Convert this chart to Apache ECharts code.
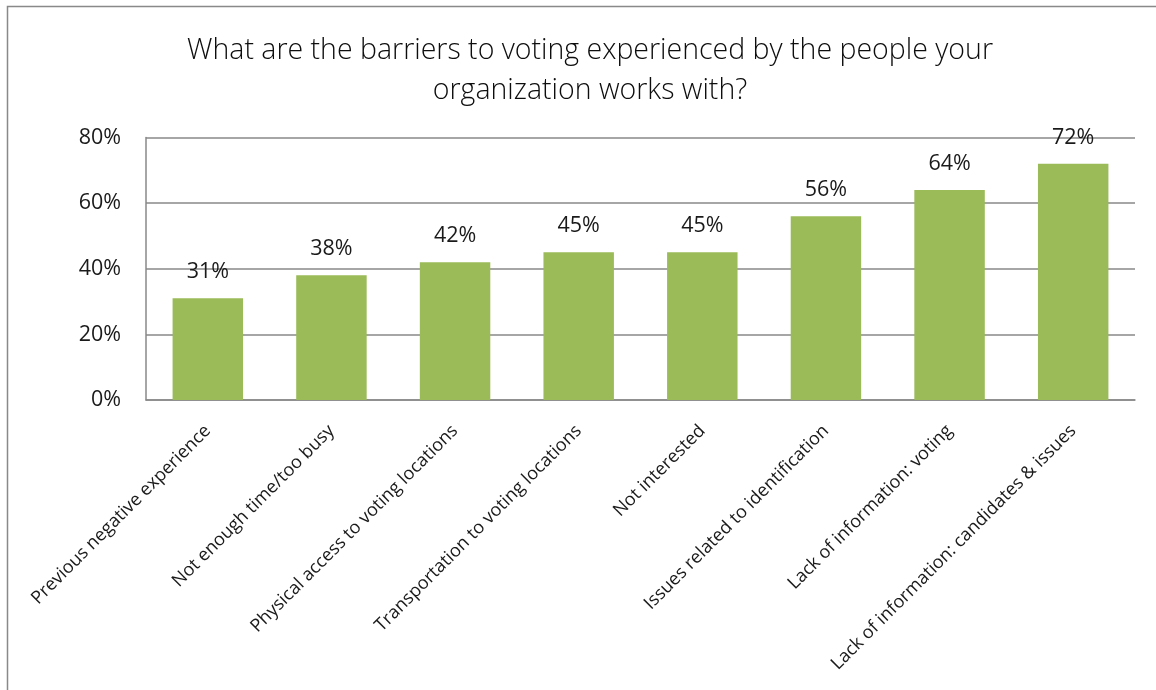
<!DOCTYPE html>
<html><head><meta charset="utf-8">
<script src="https://cdn.jsdelivr.net/npm/echarts@6/dist/echarts.min.js"></script>
<style>html,body{margin:0;padding:0;background:#fff}#c{width:1156px;height:690px}</style>
</head><body><div id="c"></div>
<script>
var titleText = "What are the barriers to voting experienced by the people your\norganization works with?";
var categories = ["Previous negative experience","Not enough time/too busy","Physical access to voting locations","Transportation to voting locations","Not interested","Issues related to identification","Lack of information: voting","Lack of information: candidates & issues"];
var values = [31, 38, 42, 45, 45, 56, 64, 72];
var yTicks = [0, 20, 40, 60, 80];

var chart = echarts.init(document.getElementById('c'), null, {renderer:'canvas'});
var font = "'Open Sans', 'Noto Sans', sans-serif";
chart.setOption({
  animation:false,
  graphic:[{type:'rect', shape:{x:7.5,y:6.5,width:1200,height:800}, style:{fill:'none', stroke:'#898989', lineWidth:1.5}, silent:true}],
  title:{text:titleText, left:585, top:26, textAlign:'center',
    textStyle:{fontFamily:font, fontWeight:300, fontSize:28.5, lineHeight:40, color:'#0d0d0d'}},
  grid:{left:146, right:21, top:137.5, bottom:290, containLabel:false},
  xAxis:{type:'category', data:categories,
    axisLine:{lineStyle:{color:'#898989', width:1.5}},
    axisTick:{show:false},
    axisLabel:{rotate:45, interval:0, fontFamily:font, fontSize:18, color:'#1a1a1a', margin:28}},
  yAxis:{type:'value', min:yTicks[0], max:yTicks[yTicks.length-1], interval:20,
    axisLine:{show:true, lineStyle:{color:'#898989', width:1.5}},
    axisTick:{show:false},
    splitLine:{lineStyle:{color:'#898989', width:1.5}},
    axisLabel:{formatter:'{value}%', fontFamily:font, fontSize:21.5, color:'#1a1a1a', margin:25}},
  series:[{type:'bar', data:values, barCategoryGap:'43%',
    itemStyle:{color:'#9BBB59'},
    label:{show:true, position:'top', distance:15, formatter:'{c}%', fontFamily:font, fontSize:21.5, color:'#1a1a1a'}}]
});
</script></body></html>
